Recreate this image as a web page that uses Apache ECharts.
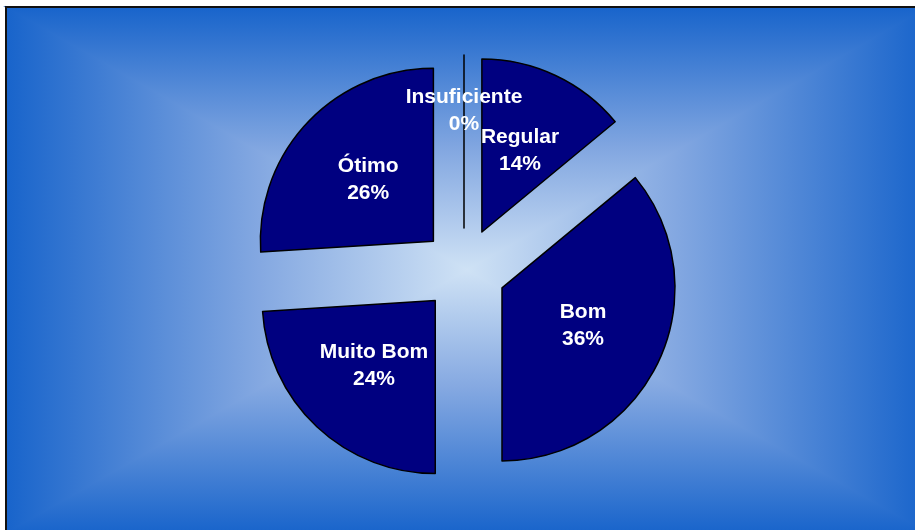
<!DOCTYPE html>
<html>
<head>
<meta charset="utf-8">
<style>
  html, body { margin: 0; padding: 0; background: #fff; }
  #chart { width: 915px; height: 530px; }
</style>
<script src="https://cdn.jsdelivr.net/npm/echarts@6/dist/echarts.min.js"></script>
</head>
<body>
<div id="chart"></div>
<script>
// categories and percentages
const categories = ['Insuficiente', 'Regular', 'Bom', 'Muito Bom', 'Ótimo']
const values = [0, 14, 36, 24, 26]

// frame with a "from centre" rectangular gradient, like the Excel fill
const x0 = 6, y0 = 7, x1 = 928, y1 = 533
const cx = 467, cy = 270
const edge = '#1864cb', mid = '#84a8e1', center = '#cfe2f5'

function grad(ax, ay, bx, by) {
  return new echarts.graphic.LinearGradient(ax, ay, bx, by, [
    { offset: 0, color: edge },
    { offset: 0.55, color: mid },
    { offset: 1, color: center }
  ], true)
}

// one triangle per side, stroked with its own fill so no seams show
function side(points, g) {
  return { type: 'polygon', shape: { points: points }, style: { fill: g, stroke: g, lineWidth: 1.5 }, silent: true }
}

const bgGraphic = [
  { type: 'rect', shape: { x: x0, y: y0, width: x1 - x0, height: y1 - y0 }, style: { fill: mid }, silent: true },
  side([[x0, y0], [x1, y0], [cx, cy]], grad(0, y0, 0, cy)),
  side([[x0, y1], [x1, y1], [cx, cy]], grad(0, y1, 0, cy)),
  side([[x0, y0], [x0, y1], [cx, cy]], grad(x0, 0, cx, 0)),
  side([[x1, y0], [x1, y1], [cx, cy]], grad(x1, 0, cx, 0)),
  { type: 'rect', shape: { x: x0, y: y0, width: x1 - x0, height: y1 - y0 }, style: { fill: null, stroke: '#111', lineWidth: 2 }, silent: true }
]

const chart = echarts.init(document.getElementById('chart'))
const option = {
  animation: false,
  graphic: bgGraphic,
  series: [{
    type: 'pie',
    center: [464, 270],
    radius: 173,
    startAngle: 90,
    clockwise: true,
    selectedMode: 'multiple',
    selectedOffset: 42,
    avoidLabelOverlap: false,
    itemStyle: {
      color: '#000080',
      borderColor: '#000',
      borderWidth: 1.5
    },
    label: {
      position: 'inside',
      color: '#fff',
      fontFamily: 'Liberation Sans, Arial, sans-serif',
      fontWeight: 'bold',
      fontSize: 21,
      lineHeight: 27,
      formatter: p => p.name + '\n' + p.value + '%'
    },
    labelLine: { show: false },
    emphasis: { disabled: true },
    labelLayout: p => (p.dataIndex === 0 ? { dy: -28 } : {}),
    data: categories.map((c, i) => ({ name: c, value: values[i], selected: true }))
  }]
}
chart.setOption(option)
</script>
</body>
</html>
